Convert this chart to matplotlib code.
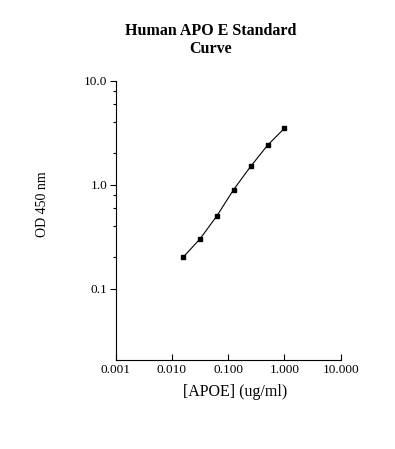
import matplotlib
matplotlib.use("Agg")
import matplotlib.pyplot as plt
from matplotlib.ticker import FixedLocator, NullLocator, FixedFormatter

plt.rcParams['font.family'] = ['Liberation Serif', 'DejaVu Serif']

# standard curve data
conc = [0.015625, 0.03125, 0.0625, 0.125, 0.25, 0.5, 1.0]
od = [0.2, 0.3, 0.5, 0.9, 1.5, 2.4, 3.5]

x_ticks = [0.001, 0.01, 0.1, 1, 10]
x_labels = ['0.001', '0.010', '0.100', '1.000', '10.000']
y_ticks = [0.1, 1, 10]
y_labels = ['0.1', '1.0', '10.0']
y_minor = [0.2, 0.4, 0.6, 0.8, 2, 4, 6, 8]

fig = plt.figure(figsize=(3.95, 4.49), dpi=100)
ax = fig.add_axes([0.293, 0.198, 0.5696, 0.622])

ax.plot(conc, od, color='black', lw=0.8, marker='s', ms=3.5)

ax.set_xscale('log')
ax.set_yscale('log')
ax.set_xlim(0.001, 10)
ax.set_ylim(0.0206, 10)

ax.xaxis.set_major_locator(FixedLocator(x_ticks))
ax.xaxis.set_major_formatter(FixedFormatter(x_labels))
ax.xaxis.set_minor_locator(NullLocator())
ax.yaxis.set_major_locator(FixedLocator(y_ticks))
ax.yaxis.set_major_formatter(FixedFormatter(y_labels))
ax.yaxis.set_minor_locator(FixedLocator(y_minor))
ax.yaxis.set_minor_formatter(FixedFormatter([''] * len(y_minor)))

ax.tick_params(axis='x', which='major', direction='in', length=4, width=0.8, labelsize=9.5, pad=3)
ax.tick_params(axis='y', which='major', direction='out', length=4, width=0.8, labelsize=9.5, pad=2)
ax.tick_params(axis='y', which='minor', direction='out', length=2.5, width=0.8)

for s in ['top', 'right']:
    ax.spines[s].set_visible(False)
for s in ['left', 'bottom']:
    ax.spines[s].set_linewidth(0.8)

fig.text(211 / 395, 1 - 40 / 449, 'Human APO E Standard\nCurve', ha='center', va='center',
         fontsize=11.5, fontweight='bold', linespacing=1.15)
fig.text(235 / 395, 1 - 392 / 449, '[APOE] (ug/ml)', ha='center', va='center', fontsize=11.5)
fig.text(42 / 395, 1 - 204 / 449, 'OD 450 nm', ha='center', va='center', rotation=90, fontsize=10)

fig.savefig('out.png', dpi=100)
